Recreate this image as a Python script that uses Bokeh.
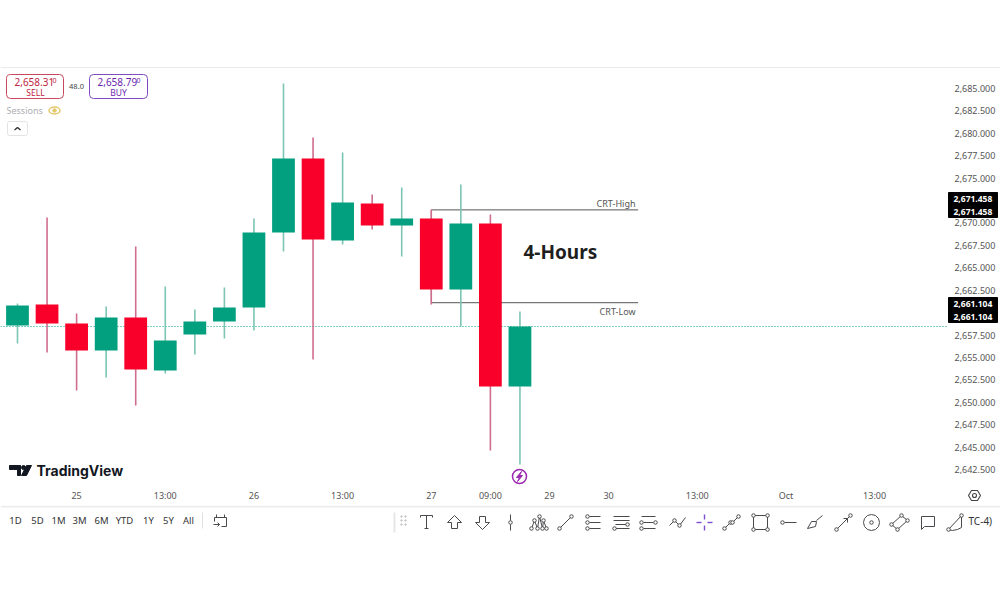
from bokeh.core.properties import value
from bokeh.embed import file_html
from bokeh.layouts import column
from bokeh.models import FixedTicker, Label, NumeralTickFormatter, Range1d, Span
from bokeh.plotting import figure
from bokeh.resources import INLINE

# Candles, oldest first
opens = [2658.56, 2660.91, 2658.79, 2655.78, 2659.46, 2653.55, 2657.56, 2659.01, 2660.57,
         2668.94, 2677.19, 2668.05, 2672.17, 2669.72, 2670.50, 2662.58, 2669.94, 2651.76]
highs = [2661.02, 2670.61, 2659.90, 2660.68, 2667.38, 2662.91, 2660.35, 2662.80, 2670.50,
         2685.56, 2679.53, 2677.86, 2673.18, 2673.96, 2671.46, 2674.29, 2670.95, 2660.13]
lows = [2656.56, 2655.55, 2651.31, 2652.76, 2649.64, 2653.21, 2655.33, 2657.11, 2658.01,
        2666.82, 2654.77, 2667.60, 2669.27, 2666.26, 2660.91, 2658.45, 2644.62, 2643.06]
closes = [2660.79, 2658.79, 2655.78, 2659.46, 2653.66, 2656.89, 2659.01, 2660.57, 2668.94,
          2677.19, 2668.16, 2672.28, 2669.72, 2670.50, 2662.58, 2669.94, 2651.76, 2658.45]

price_ticks = [2642.5, 2645, 2647.5, 2650, 2652.5, 2655, 2657.5, 2660, 2662.5, 2665, 2667.5,
               2670, 2672.5, 2675, 2677.5, 2680, 2682.5, 2685]
time_ticks = [2, 5, 8, 11, 14, 16, 18, 20, 23, 26, 29]
time_labels = ["25", "13:00", "26", "13:00", "27", "09:00", "29", "30", "13:00", "Oct", "13:00"]

crt_high = 2671.458
crt_low = 2661.104
crt_start = 14
crt_end = 21
sell_price = "2,658.31"
buy_price = "2,658.79"
spread = "48.0"
ranges = ["1D", "5D", "1M", "3M", "6M", "YTD", "1Y", "5Y", "All"]
range_pos = [15, 37, 58, 79, 101, 124, 148, 168, 188]

green = "#03A07F"
red = "#F80029"
green_wick = "#7CC5B5"
red_wick = "#CF6E8C"
font = "Noto Sans"

# Top blank strip with its rule
top = figure(width=1000, height=68, x_range=(0, 1000), y_range=(68, 0), output_backend="svg",
             toolbar_location=None, x_axis_location=None, y_axis_location=None,
             min_border=0, outline_line_color=None, frame_align=False)
top.grid.visible = False
top.line([0, 1000], [67.5, 67.5], color="#D4D4D8", line_width=1)

# Main chart
p = figure(width=1000, height=437, x_range=Range1d(-0.575, 31.5), y_range=Range1d(2640.49, 2687.23),
           output_backend="svg", toolbar_location=None, y_axis_location="right",
           min_border_left=0, min_border_top=0, min_border_right=52, min_border_bottom=18,
           outline_line_color=None, frame_align=False)
p.grid.visible = False
p.extra_x_ranges = {"px": Range1d(0, 948)}
p.extra_y_ranges = {"py": Range1d(487, 68)}

p.yaxis.ticker = FixedTicker(ticks=price_ticks)
p.yaxis.formatter = NumeralTickFormatter(format="0,0.000")
p.xaxis.ticker = FixedTicker(ticks=time_ticks)
p.xaxis.major_label_overrides = dict(zip(time_ticks, time_labels))
for ax in (p.xaxis, p.yaxis):
    ax.axis_line_color = None
    ax.major_tick_line_color = None
    ax.minor_tick_line_color = None
    ax.major_tick_in = 0
    ax.major_tick_out = 0
    ax.minor_tick_in = 0
    ax.minor_tick_out = 0
    ax.major_label_text_font = font
    ax.major_label_text_font_size = "9px"
    ax.major_label_text_color = "#555555"
p.yaxis.major_label_standoff = 6
p.xaxis.major_label_standoff = 1

idx = list(range(len(closes)))
wick_cols = [green_wick if c >= o else red_wick for o, c in zip(opens, closes)]
body_cols = [green if c >= o else red for o, c in zip(opens, closes)]

p.add_layout(Span(location=closes[-1], dimension="width", line_color=green, line_width=1,
                  line_dash="1 2", level="underlay"))

p.segment([crt_start, crt_start], [crt_high, crt_low], [crt_end, crt_end], [crt_high, crt_low],
          color="#555555", line_width=1)
p.segment([crt_start, crt_start], [crt_high, crt_low], [crt_start, crt_start],
          [opens[crt_start], closes[crt_start]], color="#9A5A6E", line_width=1)

p.segment(idx, highs, idx, lows, color=wick_cols, line_width=1.6)
p.vbar(idx, 0.77, opens, closes, fill_color=body_cols, line_color=None)


def note(text, x, y, size=9.5, color="#555555", align="left", style="normal"):
    lab = Label(x=x, y=y, x_range_name="px", y_range_name="py", text=text, text_font=font,
                text_font_size=f"{size}px", text_color=color, text_align=align,
                text_baseline="middle", text_font_style=style)
    p.add_layout(lab)
    return lab


note("CRT-High", 635, 203, 9, "#555555", "right")
note("CRT-Low", 635, 311, 9, "#555555", "right")
note("4-Hours", 523, 251, 19, "#1E1E1E", style="bold")

# Sell / buy boxes
p.quad(left=[6, 89], right=[63, 147], top=[74, 74], bottom=[98, 98], x_range_name="px", y_range_name="py",
       fill_color="white", line_color=["#C9485F", "#7E4BC0"], line_width=1, border_radius=4)
note(sell_price, 14, 81, 10, "#C0243E")
note("0", 52, 80, 7, "#C0243E")
note("SELL", 35, 92, 8.5, "#C0243E", "center")
note(buy_price, 97, 81, 10, "#6A1FB0")
note("0", 136, 80, 7, "#6A1FB0")
note("BUY", 118, 92, 8.5, "#6A1FB0", "center")
note(spread, 76, 86, 7.5, "#444444", "center")
note("Sessions", 6, 110, 9, "#AEAEB2")

# Eye next to Sessions
p.ellipse([54], [110], width=[11], height=[7], x_range_name="px", y_range_name="py",
          fill_color=None, line_color="#E5C76B", line_width=1.5)
p.scatter([54], [110], size=3.5, x_range_name="px", y_range_name="py", color="#E5C76B")
# Collapse button
p.quad(left=[7], right=[27], top=[121], bottom=[135], x_range_name="px", y_range_name="py",
       fill_color="white", line_color="#E3E3E6", border_radius=2)
p.line([14, 17, 20], [129.5, 127, 129.5], x_range_name="px", y_range_name="py", color="#333333", line_width=1.4)

# TradingView logo
p.patch([9, 20, 20, 17, 17, 13, 13, 9], [465, 465, 475, 475, 469, 469, 469, 469], x_range_name="px",
        y_range_name="py", color="#131722")
p.scatter([23], [467], size=4, x_range_name="px", y_range_name="py", color="#131722")
p.patch([26, 31, 26, 21], [465, 465, 475, 475], x_range_name="px", y_range_name="py", color="#131722")
tv = note("TradingView", 36, 470, 14, "#131722", style="bold")
tv.text_font = "Inter"

# Lightning marker under the last candle
p.scatter([519], [476], size=14, x_range_name="px", y_range_name="py", fill_color="white",
          line_color="#9C27B0", line_width=1.5)
p.patch([521, 516, 519, 517, 522, 519], [471, 477, 477, 481, 475, 475], x_range_name="px", y_range_name="py",
        color="#9C27B0")

# Bottom toolbar strip
bar = figure(width=1000, height=95, x_range=(0, 1000), y_range=(600, 505), output_backend="svg",
             toolbar_location=None, x_axis_location=None, y_axis_location=None,
             min_border=0, outline_line_color=None, frame_align=False)
bar.grid.visible = False
bar.line([0, 1000], [506, 506], color="#EDEDEF", line_width=2)

for label, x in zip(ranges, range_pos):
    bar.add_layout(Label(x=x, y=520, text=label, text_font=font, text_font_size="9.5px", text_color="#333333",
                         text_align="center", text_baseline="middle"))
bar.line([202, 202], [512, 528], color="#E0E0E3")
bar.line([394, 394], [512, 532], color="#E6E6E8", line_width=2)
bar.add_layout(Label(x=968, y=520, text="TC-4)", text_font=font, text_font_size="10px", text_color="#333333",
                     text_baseline="middle"))

lines_x, lines_y, dots_x, dots_y = [], [], [], []


def icon(cx, segs=(), dots=(), cy=522):
    for seg in segs:
        lines_x.append([cx + s[0] for s in seg])
        lines_y.append([cy + s[1] for s in seg])
    for d in dots:
        dots_x.append(cx + d[0])
        dots_y.append(cy + d[1])


# Calendar
icon(220, [[(-6, -3), (6, -3), (6, 6), (1, 6)], [(-6, -3), (-6, 1)], [(-4, -6), (-4, -3)], [(4, -6), (4, -3)],
           [(-7, 4), (-1, 4)], [(-3, 2), (-1, 4), (-3, 6)]], cy=520)
# Drawing tools
icon(426, [[(-6, -7), (6, -7)], [(-6, -7), (-6, -5)], [(6, -7), (6, -5)], [(0, -7), (0, 6)], [(-2, 6), (2, 6)]])
icon(454, [[(0, -7), (7, 0), (3, 0), (3, 6), (-3, 6), (-3, 0), (-7, 0), (0, -7)]])
icon(482, [[(0, 7), (7, 0), (3, 0), (3, -6), (-3, -6), (-3, 0), (-7, 0), (0, 7)]])
icon(510, [[(0, -8), (0, -2)], [(0, 2), (0, 8)]], [(0, 0)])
icon(538, [[(-7, 6), (-4, -2), (-1, 6), (1, -6), (4, 6), (5, -2), (8, 6)]],
     [(-7, 6), (-4, -2), (-1, 6), (1, -6), (4, 6), (5, -2), (8, 6)])
icon(565, [[(-6, 6), (6, -6)]], [(-6, 6), (6, -6)])
icon(593, [[(-4, -6), (7, -6)], [(-4, 0), (7, 0)], [(-4, 6), (7, 6)]], [(-6, -6), (-6, 0), (-6, 6)])
icon(621, [[(-8, -6), (8, -6)], [(-8, -2), (8, -2)], [(-6, 2), (8, 2)], [(-6, 6), (8, 6)]], [(-7, 6), (6, 2)])
icon(648, [[(-7, -6), (7, -6)], [(-5, 0), (5, 0)], [(-5, 6), (7, 6)]], [(-7, 0), (7, 0), (-7, 6)])
icon(677, [[(-8, 3), (-3, -2), (2, 3), (8, -5)]], [(-3, -2), (2, 3)])
icon(731, [[(-7, 6), (-1, 0)], [(1, 0), (7, -6)]], [(-7, 6), (-1, 0), (1, 0), (7, -6)])
icon(760, [[(-7, -7), (7, -7), (7, 7), (-7, 7), (-7, -7)]], [(-7, -7), (7, -7), (7, 7), (-7, 7)])
icon(788, [[(-4, 0), (8, 0)]], [(-6, 0)])
icon(815, [[(-8, 6), (-4, -1), (1, -1), (0, 4), (-8, 6)], [(1, -2), (7, -7)]])
icon(843, [[(-7, 7), (6, -6)], [(0, -4), (4, -4), (4, 0)]], [(-7, 7), (7, -7)])
icon(871, [[(8, 0), (7, -4), (4, -7), (0, -8), (-4, -7), (-7, -4), (-8, 0), (-7, 4), (-4, 7), (0, 8), (4, 7), (7, 4), (8, 0)]],
     [(0, 0)])
icon(899, [[(-8, 2), (2, -7), (8, -2), (-2, 7), (-8, 2)]], [(-8, 2), (2, -7), (8, -2), (-2, 7)])
icon(927, [[(-6, -6), (7, -6), (7, 4), (-3, 4), (-6, 7), (-6, -6)]])
icon(955, [[(-7, 7), (6, -7), (6, 5), (2, 7), (-3, 8), (-7, 7)]], [(-7, 7), (6, -7)])

bar.multi_line(lines_x, lines_y, color="#4A4A4E", line_width=1)
bar.scatter(dots_x, dots_y, size=3.5, fill_color="white", line_color="#4A4A4E", line_width=1)
# Selected crosshair tool
bar.multi_line([[696, 701], [707, 712], [704, 704], [704, 704]], [[522, 522], [522, 522], [514, 519], [525, 530]],
               color="#7B4FD0", line_width=1.4)
# Grip dots
bar.scatter([401, 405, 401, 405, 401, 405], [516, 516, 520, 520, 524, 524], size=1.5, color="#C8C8CC")

# Transparent sheet over the page for what sits outside the chart frame: price tags, settings glyph
sheet = figure(width=1000, height=600, x_range=(0, 1000), y_range=(600, 0), output_backend="svg",
               toolbar_location=None, x_axis_location=None, y_axis_location=None, min_border=0,
               outline_line_color=None, background_fill_alpha=0, border_fill_alpha=0, frame_align=False,
               styles={"position": "absolute", "left": "0", "top": "0"})
sheet.grid.visible = False
sheet.quad(left=[948, 948], right=[997, 997], top=[192, 297], bottom=[217, 322], color="black")
for val, ys in ((crt_high, (198.5, 211)), (crt_low, (303.5, 316))):
    sheet.text([953, 953], list(ys), text=[f"{val:,.3f}"] * 2, text_font=value(font), text_font_size="8.5px",
               text_font_style="bold", text_color="white", text_baseline="middle")
sheet.patch([968, 971, 977, 980, 977, 971], [495, 490, 490, 495, 500, 500], fill_color=None, line_color="#444444",
            line_width=1.1)
sheet.scatter([974], [495], size=4, fill_color=None, line_color="#444444", line_width=1.1)

page = column(top, p, bar, sheet, spacing=0, styles={"position": "absolute", "left": "0", "top": "0"})
open("out.html", "w").write(file_html(page, INLINE))
